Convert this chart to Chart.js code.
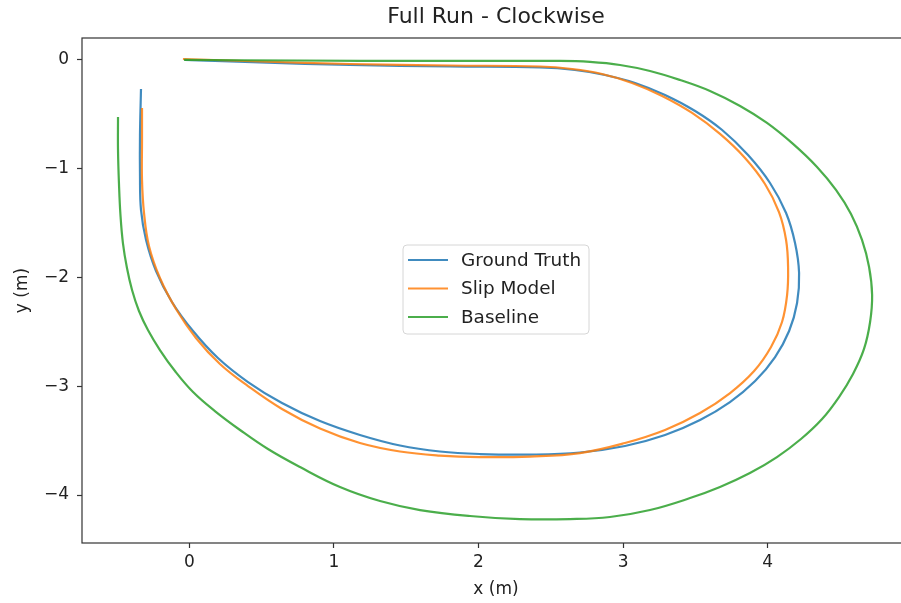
<!DOCTYPE html>
<html lang="en">
<head>
    <meta charset="UTF-8">
    <title>Full Run - Clockwise</title>
    <script src="https://cdn.jsdelivr.net/npm/chart.js"></script>
    <style>
        html, body { margin: 0; padding: 0; background: #fff; overflow: hidden; }
        #wrap { width: 901px; height: 603px; overflow: hidden; }
    </style>
</head>
<body>
    <div id="wrap"><canvas id="runChart" width="920" height="603"></canvas></div>

    <script>
        // trajectories in metres, start at the origin and go round clockwise
        const truthX = [-0.030, 0.489, 1.111, 1.803, 2.425, 2.667, 2.875, 3.083, 3.290, 3.498, 3.685, 3.864, 4.016, 4.127, 4.189, 4.217, 4.203, 4.148, 4.051, 3.913, 3.739, 3.532, 3.290, 3.013, 2.702, 2.356, 2.010, 1.733, 1.457, 1.180, 0.904, 0.641, 0.406, 0.198, 0.026, -0.120, -0.230, -0.299, -0.334, -0.341, -0.341, -0.334];
        const truthY = [0.000, -0.023, -0.046, -0.060, -0.069, -0.092, -0.138, -0.211, -0.322, -0.469, -0.644, -0.874, -1.131, -1.407, -1.683, -1.959, -2.234, -2.492, -2.731, -2.952, -3.145, -3.310, -3.448, -3.549, -3.609, -3.628, -3.623, -3.600, -3.545, -3.448, -3.320, -3.154, -2.961, -2.740, -2.492, -2.225, -1.940, -1.655, -1.379, -1.057, -0.690, -0.267];

        const slipX = [-0.044, 0.489, 1.111, 1.803, 2.425, 2.647, 2.854, 3.062, 3.270, 3.477, 3.670, 3.843, 3.981, 4.078, 4.127, 4.141, 4.134, 4.099, 4.023, 3.906, 3.740, 3.532, 3.290, 3.013, 2.702, 2.356, 2.010, 1.733, 1.457, 1.180, 0.904, 0.641, 0.406, 0.212, 0.046, -0.092, -0.203, -0.279, -0.313, -0.327, -0.327, -0.327];
        const slipY = [0.009, -0.014, -0.037, -0.051, -0.060, -0.083, -0.129, -0.211, -0.331, -0.487, -0.680, -0.901, -1.140, -1.398, -1.655, -1.913, -2.161, -2.409, -2.639, -2.860, -3.062, -3.246, -3.402, -3.522, -3.614, -3.646, -3.651, -3.637, -3.600, -3.522, -3.389, -3.209, -2.998, -2.795, -2.556, -2.290, -2.005, -1.710, -1.407, -1.103, -0.736, -0.441];

        const baseX = [-0.037, 0.766, 1.596, 2.564, 2.771, 2.979, 3.186, 3.394, 3.601, 3.809, 3.995, 4.175, 4.341, 4.472, 4.576, 4.652, 4.701, 4.722, 4.708, 4.666, 4.590, 4.493, 4.376, 4.230, 4.064, 3.877, 3.670, 3.463, 3.186, 2.909, 2.633, 2.287, 1.941, 1.596, 1.319, 1.042, 0.766, 0.544, 0.351, 0.177, 0.026, -0.099, -0.203, -0.286, -0.348, -0.396, -0.431, -0.459, -0.476, -0.486, -0.493, -0.493];
        const baseY = [0.000, -0.005, -0.009, -0.009, -0.018, -0.046, -0.101, -0.184, -0.285, -0.423, -0.579, -0.772, -0.984, -1.195, -1.416, -1.655, -1.903, -2.161, -2.409, -2.657, -2.887, -3.099, -3.301, -3.485, -3.651, -3.798, -3.926, -4.028, -4.138, -4.202, -4.221, -4.221, -4.193, -4.138, -4.055, -3.926, -3.743, -3.577, -3.402, -3.228, -3.053, -2.860, -2.667, -2.483, -2.308, -2.115, -1.913, -1.683, -1.425, -1.149, -0.828, -0.524];

        const seriesNames = ['Ground Truth', 'Slip Model', 'Baseline'];
        const xTicks = [0, 1, 2, 3, 4];
        const yTicks = [0, -1, -2, -3, -4];

        const colors = ['rgba(31,119,180,0.85)', 'rgba(255,127,14,0.85)', 'rgba(44,160,44,0.85)'];
        const FONT = 'DejaVu Sans';

        function toPoints(xs, ys) {
            return xs.map((x, i) => ({ x: x, y: ys[i] }));
        }

        function fmt(v) {
            return v < 0 ? '\u2212' + Math.abs(v) : String(v);
        }

        // title, axes frame and the legend box in the middle of the plot
        const decorations = {
            id: 'decorations',
            afterDraw(chart) {
                const ctx = chart.ctx;
                const a = chart.chartArea;
                ctx.save();
                ctx.strokeStyle = '#333';
                ctx.lineWidth = 1.2;
                ctx.strokeRect(a.left, a.top, a.right - a.left, a.bottom - a.top);

                ctx.fillStyle = '#222';
                ctx.font = '22px "' + FONT + '"';
                ctx.textAlign = 'center';
                ctx.textBaseline = 'middle';
                ctx.fillText('Full Run - Clockwise', (a.left + a.right) / 2, 17);

                // legend
                const lx = 403, ly = 245, lw = 186, lh = 89, r = 4;
                ctx.beginPath();
                ctx.moveTo(lx + r, ly);
                ctx.arcTo(lx + lw, ly, lx + lw, ly + lh, r);
                ctx.arcTo(lx + lw, ly + lh, lx, ly + lh, r);
                ctx.arcTo(lx, ly + lh, lx, ly, r);
                ctx.arcTo(lx, ly, lx + lw, ly, r);
                ctx.closePath();
                ctx.fillStyle = 'rgba(255,255,255,0.8)';
                ctx.fill();
                ctx.strokeStyle = '#d6d6d6';
                ctx.lineWidth = 1;
                ctx.stroke();

                ctx.font = '18.4px "' + FONT + '"';
                ctx.textAlign = 'left';
                chart.data.datasets.forEach((ds, i) => {
                    const y = 260 + i * 28.5;
                    ctx.strokeStyle = ds.borderColor;
                    ctx.lineWidth = 2.2;
                    ctx.beginPath();
                    ctx.moveTo(408, y);
                    ctx.lineTo(448, y);
                    ctx.stroke();
                    ctx.fillStyle = '#222';
                    ctx.fillText(ds.label, 461, y + 1);
                });
                ctx.restore();
            }
        };

        new Chart(document.getElementById('runChart'), {
            type: 'scatter',
            data: {
                datasets: [
                    { label: seriesNames[0], data: toPoints(truthX, truthY), borderColor: colors[0], order: 3 },
                    { label: seriesNames[1], data: toPoints(slipX, slipY), borderColor: colors[1], order: 2 },
                    { label: seriesNames[2], data: toPoints(baseX, baseY), borderColor: colors[2], order: 1 }
                ].map(ds => Object.assign(ds, {
                    showLine: true,
                    pointRadius: 0,
                    borderWidth: 2.2,
                    tension: 0.4,
                    fill: false
                }))
            },
            options: {
                responsive: false,
                animation: false,
                layout: { padding: { top: 38, right: 10, left: 0, bottom: 0 } },
                plugins: {
                    legend: { display: false },
                    tooltip: { enabled: false }
                },
                scales: {
                    x: {
                        type: 'linear',
                        min: -0.742,
                        max: 4.984,
                        afterBuildTicks: s => { s.ticks = xTicks.map(v => ({ value: v })); },
                        afterFit: s => { s.height = 60; },
                        grid: { drawOnChartArea: false, tickLength: 5, tickColor: '#333', tickWidth: 1.2 },
                        border: { display: false },
                        ticks: { color: '#222', padding: 4, font: { family: FONT, size: 17 }, callback: fmt },
                        title: { display: true, text: 'x (m)', color: '#222', font: { family: FONT, size: 17 }, padding: { top: 0, bottom: 3 } }
                    },
                    y: {
                        type: 'linear',
                        min: -4.441,
                        max: 0.202,
                        afterBuildTicks: s => { s.ticks = yTicks.map(v => ({ value: v })); },
                        afterFit: s => { s.width = 82; },
                        grid: { drawOnChartArea: false, tickLength: 5, tickColor: '#333', tickWidth: 1.2 },
                        border: { display: false },
                        ticks: { color: '#222', padding: 8, font: { family: FONT, size: 17 }, callback: fmt },
                        title: { display: true, text: 'y (m)', color: '#222', font: { family: FONT, size: 17 }, padding: { top: 12, bottom: 0 } }
                    }
                }
            },
            plugins: [decorations]
        });
    </script>
</body>
</html>
